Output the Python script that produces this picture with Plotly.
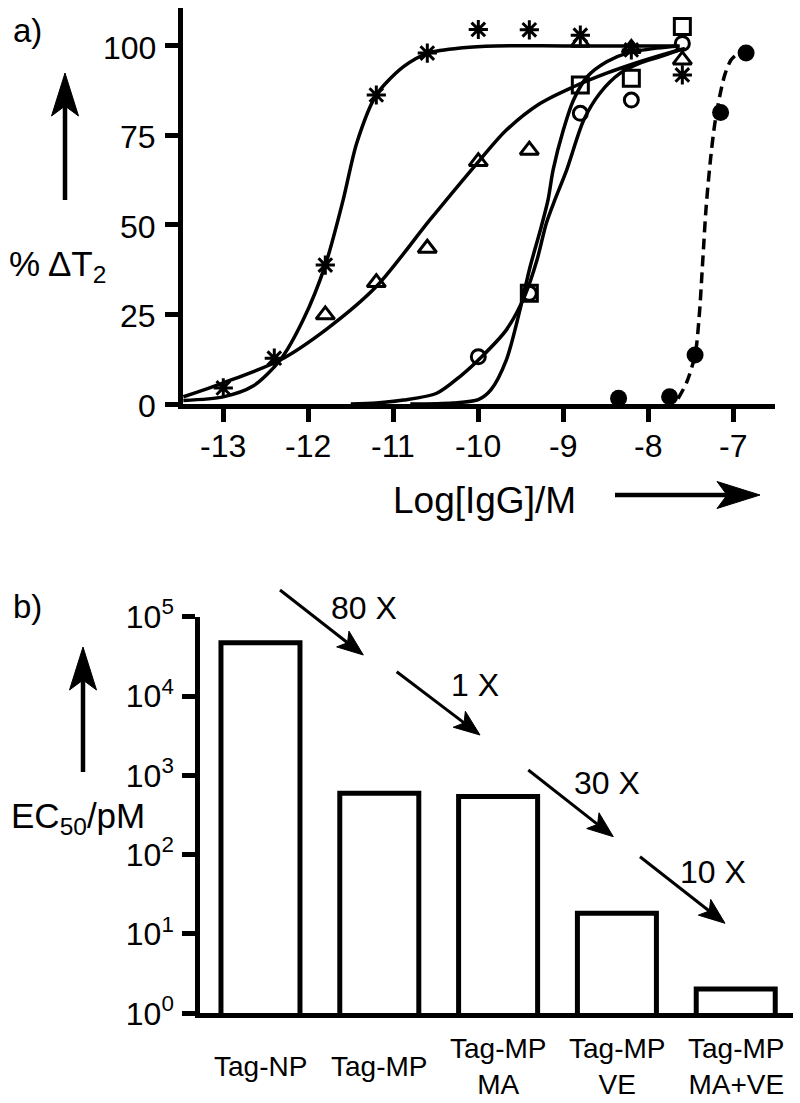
import math
import plotly.graph_objects as go

W, H = 800, 1103
FONT = "Liberation Sans, Arial, sans-serif"

# ---------------- panel a) data ----------------
x_tick_vals = [-13, -12, -11, -10, -9, -8, -7]
x_tick_text = ["-13", "-12", "-11", "-10", "-9", "-8", "-7"]
y_tick_vals = [0, 25, 50, 75, 100]
y_tick_text = ["0", "25", "50", "75", "100"]

star_x = [-13.0, -12.4, -11.8, -11.2, -10.6, -10.0, -9.4, -8.8, -8.2, -7.6]
star_y = [4.5, 12.8, 38.8, 86.3, 98.0, 104.6, 104.5, 103.0, 98.9, 91.9]
star_fit_x = [-13.47, -13.0, -12.65, -12.33, -12.06, -11.8, -11.59, -11.43, -11.2, -10.88, -10.59, -10.18, -9.8, -9.0, -8.0, -7.65]
star_fit_y = [1.0, 2.0, 5.0, 12.3, 23.5, 38.8, 57.0, 72.9, 86.3, 94.2, 98.0, 99.5, 100.0, 100.0, 100.0, 100.0]

tri_x = [-11.8, -11.2, -10.6, -10.0, -9.4, -8.8, -8.2, -7.6]
tri_y = [24.9, 33.9, 43.5, 67.7, 70.9, 101.0, 99.3, 96.1]
tri_fit_x = [-13.47, -13.0, -12.33, -11.78, -11.2, -10.57, -9.98, -9.67, -9.27, -8.88, -8.49, -8.1, -7.71, -7.57]
tri_fit_y = [2.0, 5.9, 12.3, 21.0, 32.8, 51.4, 68.2, 76.5, 84.0, 88.6, 92.4, 95.6, 98.4, 99.3]

circ_x = [-13.0, -11.2, -10.0, -9.4, -8.8, -8.2, -7.6]
circ_y = [-1.0, -1.0, 13.2, 30.9, 81.2, 84.9, 100.7]
circ_fit_x = [-11.5, -11.2, -10.88, -10.49, -10.22, -9.96, -9.67, -9.45, -9.31, -9.2, -9.1, -8.96, -8.76, -8.57, -8.33, -8.1, -7.86, -7.63]
circ_fit_y = [0.0, 0.3, 1.1, 3.0, 7.6, 13.2, 20.7, 30.4, 40.2, 50.5, 57.0, 65.4, 79.3, 86.8, 92.4, 95.2, 97.0, 98.9]

sq_x = [-10.6, -10.0, -9.4, -8.8, -8.2, -7.6]
sq_y = [-1.2, -1.2, 30.9, 89.1, 91.0, 105.4]
sq_fit_x = [-10.8, -10.3, -10.0, -9.85, -9.67, -9.51, -9.39, -9.27, -9.18, -9.12, -9.0, -8.88, -8.72, -8.49, -8.25, -7.9, -7.63]
sq_fit_y = [0.0, 0.3, 1.2, 4.0, 12.3, 26.3, 38.4, 48.6, 57.0, 65.4, 76.5, 84.9, 91.4, 95.6, 98.0, 99.4, 100.0]

fill_x = [-8.35, -7.75, -7.45, -7.15, -6.85]
fill_y = [1.6, 2.0, 13.7, 81.4, 98.0]
fill_fit_x = [-7.65, -7.55, -7.45, -7.40, -7.36, -7.32, -7.27, -7.22, -7.16, -7.10, -7.03, -6.97]
fill_fit_y = [1.5, 6.0, 13.7, 25.0, 40.0, 55.0, 68.0, 78.0, 86.0, 92.0, 96.0, 97.5]

# ---------------- panel b) data ----------------
categories = ["Tag-NP", "Tag-MP", "Tag-MP<br>MA", "Tag-MP<br>VE", "Tag-MP<br>MA+VE"]
ec50_pM = [47000, 595, 540, 18.2, 2.02]
log_tick_vals = [1, 10, 100, 1000, 10000, 100000]
log_tick_text = ["10<sup>0</sup>", "10<sup>1</sup>", "10<sup>2</sup>", "10<sup>3</sup>", "10<sup>4</sup>", "10<sup>5</sup>"]
fold_labels = ["80 X", "1 X", "30 X", "10 X"]


def px(x):
    return x / W


def py(y):
    return 1 - y / H


fig = go.Figure()

LW = 3.5
for fx, fy in [(star_fit_x, star_fit_y), (tri_fit_x, tri_fit_y),
               (circ_fit_x, circ_fit_y), (sq_fit_x, sq_fit_y)]:
    fig.add_trace(go.Scatter(x=fx, y=fy, mode="lines", xaxis="x", yaxis="y",
                             line=dict(color="black", width=LW, shape="spline", smoothing=0.8),
                             showlegend=False, hoverinfo="skip"))
fig.add_trace(go.Scatter(x=fill_fit_x, y=fill_fit_y, mode="lines", xaxis="x", yaxis="y",
                         line=dict(color="black", width=LW, dash="11px,6px", shape="spline", smoothing=0.8),
                         showlegend=False, hoverinfo="skip"))

MLW = 3
fig.add_trace(go.Scatter(x=star_x, y=star_y, mode="markers", xaxis="x", yaxis="y", cliponaxis=False,
                         marker=dict(symbol="asterisk-open", size=16, color="black",
                                     line=dict(color="black", width=MLW)), showlegend=False))
fig.add_trace(go.Scatter(x=tri_x, y=tri_y, mode="markers", xaxis="x", yaxis="y", cliponaxis=False,
                         marker=dict(symbol="triangle-up-open", size=16, color="black",
                                     line=dict(color="black", width=MLW)), showlegend=False))
fig.add_trace(go.Scatter(x=circ_x, y=circ_y, mode="markers", xaxis="x", yaxis="y", cliponaxis=False,
                         marker=dict(symbol="circle-open", size=14, color="black",
                                     line=dict(color="black", width=MLW)), showlegend=False))
fig.add_trace(go.Scatter(x=sq_x, y=sq_y, mode="markers", xaxis="x", yaxis="y", cliponaxis=False,
                         marker=dict(symbol="square-open", size=16, color="black",
                                     line=dict(color="black", width=MLW)), showlegend=False))
fig.add_trace(go.Scatter(x=fill_x, y=fill_y, mode="markers", xaxis="x", yaxis="y", cliponaxis=False,
                         marker=dict(symbol="circle", size=17, color="black",
                                     line=dict(width=0)), showlegend=False))

# bars
fig.add_trace(go.Bar(x=categories, y=ec50_pM, xaxis="x2", yaxis="y2", width=0.665,
                     marker=dict(color="white", line=dict(color="black", width=5)),
                     showlegend=False))

AX_LW = 4.5
common_axis = dict(showline=True, linecolor="black", linewidth=AX_LW, ticks="outside",
                   ticklen=13, tickwidth=AX_LW, tickcolor="black", showgrid=False,
                   zeroline=False, automargin=False,
                   tickfont=dict(family=FONT, size=32, color="black"))

fig.update_layout(
    template="none",
    width=W, height=H, paper_bgcolor="white", plot_bgcolor="white",
    margin=dict(l=0, r=0, t=0, b=0, pad=0), showlegend=False,
    font=dict(family=FONT, color="black"),
    xaxis=dict(domain=[px(183), px(775)], range=[-13.474, -6.51], anchor="y",
               tickvals=x_tick_vals, showticklabels=False, **common_axis),
    yaxis=dict(domain=[py(404), py(8)], range=[0, 110.6], anchor="x",
               tickvals=y_tick_vals, showticklabels=False, **common_axis),
    xaxis2=dict(domain=[px(200), px(793)], range=[-0.509, 4.482], anchor="y2",
                type="category", showticklabels=False, showline=True, linecolor="black",
                linewidth=AX_LW, ticks="", showgrid=False, zeroline=False, automargin=False),
    yaxis2=dict(domain=[py(1013.3), py(616.7)], range=[0, 5], type="log", anchor="x2",
                tickvals=log_tick_vals, ticktext=log_tick_text, ticklabelstandoff=2, **common_axis),
    bargap=0.3,
)

annotations = []
shapes = []


def text(x, y, s, size, xanchor="center", yanchor="middle"):
    annotations.append(dict(x=px(x), y=py(y), xref="paper", yref="paper", text=s, showarrow=False,
                            xanchor=xanchor, yanchor=yanchor,
                            font=dict(family=FONT, size=size, color="black")))


def arrow(x0, y0, x1, y1, L, Wd, notch, lw):
    dx, dy = x1 - x0, y1 - y0
    n = math.hypot(dx, dy)
    ux, uy = dx / n, dy / n
    pxv, pyv = -uy, ux
    bx, by = x1 - ux * L, y1 - uy * L
    lx, ly = bx + pxv * Wd / 2, by + pyv * Wd / 2
    rx, ry = bx - pxv * Wd / 2, by - pyv * Wd / 2
    nx, ny = x1 - ux * (L - notch), y1 - uy * (L - notch)
    shapes.append(dict(type="line", xref="paper", yref="paper", x0=px(x0), y0=py(y0),
                       x1=px(nx), y1=py(ny), line=dict(color="black", width=lw)))
    path = "M{},{} L{},{} L{},{} L{},{} Z".format(px(x1), py(y1), px(lx), py(ly),
                                                  px(nx), py(ny), px(rx), py(ry))
    shapes.append(dict(type="path", xref="paper", yref="paper", path=path,
                       fillcolor="black", line=dict(color="black", width=1)))


# panel a tick labels placed on the axis scale
for v, t in zip(x_tick_vals, x_tick_text):
    annotations.append(dict(x=v, xref="x", y=py(446), yref="paper", text=t, showarrow=False,
                            xanchor="center", yanchor="middle",
                            font=dict(family=FONT, size=32, color="black")))
for v, t in zip(y_tick_vals, y_tick_text):
    annotations.append(dict(x=px(158), xref="paper", y=v, yref="y", yshift=-2, text=t,
                            showarrow=False, xanchor="right", yanchor="middle",
                            font=dict(family=FONT, size=32, color="black")))

# panel labels
text(27, 30, "a)", 33)
text(27, 606, "b)", 33)

# panel a axis titles
text(58, 266, "% ΔT<sub>2</sub>", 35)
arrow(65, 200, 65, 73, 43, 27, 10, 4.5)
text(484, 500, "Log[IgG]/M", 37)
arrow(615, 495, 760, 495, 43, 27, 10, 4.5)

# panel b axis title
text(78, 818, "EC<sub>50</sub>/pM", 35)
arrow(83, 772, 83, 647, 43, 27, 10, 4.5)

# category labels (vertically centred like the reference)
for cat in categories:
    annotations.append(dict(x=cat, xref="x2", y=py(1066), yref="paper", text=cat, showarrow=False,
                            xanchor="center", yanchor="middle", align="center",
                            font=dict(family=FONT, size=28, color="black")))

# fold-change arrows
fold_arrows = [((280, 590), (363.3, 655), (364, 608)),
               ((396.7, 671.7), (480, 735), (475, 685)),
               ((528.3, 770), (613.3, 836.7), (607, 783)),
               ((640, 856.7), (725, 923.3), (713, 872))]
for lab, (t, h, tp) in zip(fold_labels, fold_arrows):
    arrow(t[0], t[1], h[0], h[1], 26, 20, 6, 3)
    text(tp[0], tp[1], lab, 32)

fig.update_layout(annotations=annotations, shapes=shapes)
fig.write_html("out.html", config={"displayModeBar": False},
               post_script="document.body.style.margin='0';document.body.style.overflow='hidden';")
